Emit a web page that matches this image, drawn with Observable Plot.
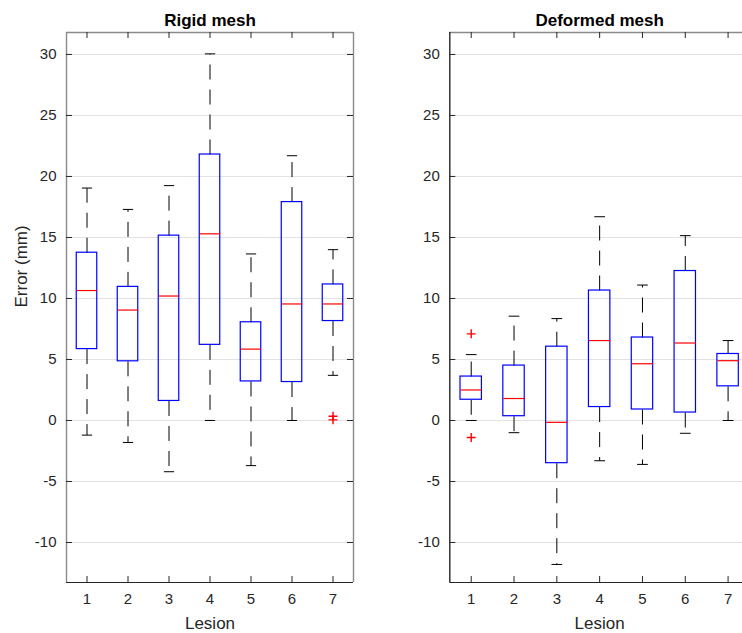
<!DOCTYPE html>
<html>
<head>
<meta charset="utf-8">
<script src="https://cdn.jsdelivr.net/npm/d3@7"></script>
<script src="https://cdn.jsdelivr.net/npm/@observablehq/plot@0.6"></script>
<style>
  html, body { margin: 0; padding: 0; background: white; overflow: hidden; }
  #wrap { position: relative; width: 742px; height: 633px; overflow: hidden; }
  #left, #right { position: absolute; top: 0; }
  #left { left: 0; }
  #right { left: 370px; }
</style>
</head>
<body>
<div id="wrap"><div id="left"></div><div id="right"></div></div>
<script>
// ---- Data ----
const lesions = [1, 2, 3, 4, 5, 6, 7];
const yTicks = [-10, -5, 0, 5, 10, 15, 20, 25, 30];
const yDomain = [-13.28, 31.8];

const rigidLower  = [-1.2, -1.8, -4.2, 0.0, -3.7, 0.0, 3.7];
const rigidQ1     = [5.85, 4.85, 1.6, 6.2, 3.2, 3.15, 8.15];
const rigidMedian = [10.65, 9.05, 10.2, 15.3, 5.85, 9.55, 9.55];
const rigidQ3     = [13.75, 10.95, 15.15, 21.8, 8.05, 17.9, 11.15];
const rigidUpper  = [19.05, 17.3, 19.25, 30.05, 13.65, 21.7, 14.0];
const rigidOutlierLesion = [7, 7];
const rigidOutlierValue  = [0.35, 0.05];

const deformedLower  = [0.0, -1.0, -11.8, -3.3, -3.6, -1.05, 0.0];
const deformedQ1     = [1.7, 0.35, -3.5, 1.1, 0.9, 0.65, 2.8];
const deformedMedian = [2.5, 1.8, -0.15, 6.55, 4.65, 6.35, 4.9];
const deformedQ3     = [3.6, 4.5, 6.05, 10.65, 6.8, 12.25, 5.45];
const deformedUpper  = [5.4, 8.55, 8.35, 16.7, 11.1, 15.15, 6.55];
const deformedOutlierLesion = [1, 1];
const deformedOutlierValue  = [7.1, -1.4];

const HEIGHT = 633, MT = 32, MB = 51;
const PLOT_H = HEIGHT - MT - MB;

const plusSymbol = {
  draw(context, size) {
    const r = Math.sqrt(size / Math.PI);
    context.moveTo(-r, 0); context.lineTo(r, 0);
    context.moveTo(0, -r); context.lineTo(0, r);
  }
};

function rowsOf(lower, q1, med, q3, upper) {
  return lesions.map((l, i) => ({lesion: l, lower: lower[i], q1: q1[i], median: med[i], q3: q3[i], upper: upper[i]}));
}

function panel({title, rows, outliers, width, marginLeft, marginRight, yLabel, leftFrameColor}) {
  const plotW = width - marginLeft - marginRight;
  const hw = 0.25, cw = 0.125;
  return Plot.plot({
    width, height: HEIGHT,
    marginLeft, marginRight, marginTop: MT, marginBottom: MB,
    style: {fontFamily: "'Liberation Sans', Arial, Helvetica, sans-serif", fontSize: "15px", color: "#262626", background: "transparent", maxWidth: "none", overflow: "hidden"},
    x: {domain: [0.5, 7.5], ticks: lesions, tickSize: 0, tickPadding: 11, label: null, tickFormat: d => String(d)},
    y: {domain: yDomain, ticks: yTicks, tickSize: 0, tickPadding: 10, label: null, tickFormat: d => String(d)},
    marks: [
      // grid
      Plot.ruleY(yTicks, {y: d => d, stroke: "#e2e2e2", strokeWidth: 1}),
      // whiskers
      Plot.link(rows, {x1: "lesion", x2: "lesion", y1: "q3", y2: "upper", stroke: "black", strokeWidth: 1, strokeDasharray: "15,10"}),
      Plot.link(rows, {x1: "lesion", x2: "lesion", y1: "q1", y2: "lower", stroke: "black", strokeWidth: 1, strokeDasharray: "15,10"}),
      // caps
      Plot.link(rows, {x1: d => d.lesion - cw, x2: d => d.lesion + cw, y1: "upper", y2: "upper", stroke: "black", strokeWidth: 1}),
      Plot.link(rows, {x1: d => d.lesion - cw, x2: d => d.lesion + cw, y1: "lower", y2: "lower", stroke: "black", strokeWidth: 1}),
      // boxes
      Plot.rect(rows, {x1: d => d.lesion - hw, x2: d => d.lesion + hw, y1: "q1", y2: "q3", fill: "none", stroke: "#0000ff", strokeWidth: 1.2}),
      // medians
      Plot.link(rows, {x1: d => d.lesion - hw, x2: d => d.lesion + hw, y1: "median", y2: "median", stroke: "#ff0000", strokeWidth: 1.2}),
      // outliers
      Plot.dot(outliers, {x: "lesion", y: "value", symbol: plusSymbol, r: 4.5, stroke: "#ff0000", strokeWidth: 1.4, fill: "none"}),
      // frame
      Plot.ruleY([yDomain[0]], {y: d => d, stroke: "#262626", strokeWidth: 1}),
      Plot.ruleY([yDomain[1]], {y: d => d, stroke: "#8a8a8a", strokeWidth: 1.4}),
      Plot.ruleX([0.5], {x: d => d, stroke: leftFrameColor, strokeWidth: 1.4}),
      Plot.ruleX([7.5], {x: d => d, stroke: "#8a8a8a", strokeWidth: 1.4}),
      // inward ticks
      Plot.ruleX(lesions, {x: d => d, insetTop: PLOT_H - 6, stroke: "#262626", strokeWidth: 1}),
      Plot.ruleX(lesions, {x: d => d, insetBottom: PLOT_H - 6, stroke: "#262626", strokeWidth: 1}),
      Plot.ruleY(yTicks, {y: d => d, insetRight: plotW - 6, stroke: "#262626", strokeWidth: 1}),
      Plot.ruleY(yTicks, {y: d => d, insetLeft: plotW - 6, stroke: "#262626", strokeWidth: 1}),
      // title and labels
      Plot.text([title], {frameAnchor: "top", dy: -7, lineAnchor: "bottom", fontSize: 17, fontWeight: "bold", fill: "black"}),
      Plot.text(["Lesion"], {frameAnchor: "bottom", dy: 46, lineAnchor: "bottom", fontSize: 17, fill: "#262626"}),
      ...(yLabel ? [Plot.text([yLabel], {frameAnchor: "left", dx: -40, rotate: -90, lineAnchor: "bottom", fontSize: 17, fill: "#262626"})] : [])
    ]
  });
}

const rigidRows = rowsOf(rigidLower, rigidQ1, rigidMedian, rigidQ3, rigidUpper);
const rigidOut = rigidOutlierLesion.map((l, i) => ({lesion: l, value: rigidOutlierValue[i]}));
const deformedRows = rowsOf(deformedLower, deformedQ1, deformedMedian, deformedQ3, deformedUpper);
const deformedOut = deformedOutlierLesion.map((l, i) => ({lesion: l, value: deformedOutlierValue[i]}));

document.getElementById("left").append(panel({
  title: "Rigid mesh", rows: rigidRows, outliers: rigidOut,
  width: 370, marginLeft: 66, marginRight: 17, yLabel: "Error (mm)", leftFrameColor: "#8a8a8a"
}));
document.getElementById("right").append(panel({
  title: "Deformed mesh", rows: deformedRows, outliers: deformedOut,
  width: 390, marginLeft: 79.3, marginRight: 11, yLabel: null, leftFrameColor: "#262626"
}));
</script>
</body>
</html>
